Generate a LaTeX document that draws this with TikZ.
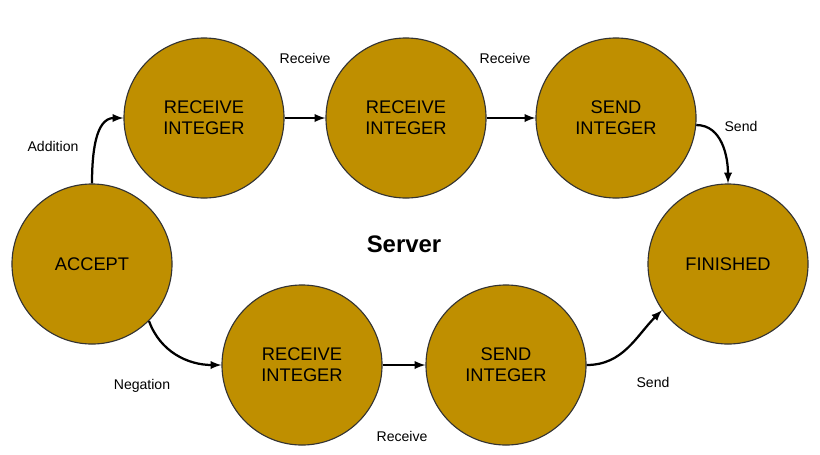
\documentclass[tikz,border=0pt]{standalone}
\usepackage{fontspec}
\setmainfont{Liberation Sans}
\usetikzlibrary{arrows}
\definecolor{gold}{HTML}{BF8F00}
\tikzset{
    state/.style={circle, draw=black!80, thick, fill=gold, minimum size=4cm,
        inner sep=0pt, align=center, font=\fontsize{13}{15}\selectfont},
    lbl/.style={font=\fontsize{10}{12}\selectfont},
    flow/.style={-latex, line width=1.6pt}
}
\begin{document}
\begin{tikzpicture}[x=0.025cm, y=-0.025cm]
        \useasboundingbox (0,0) rectangle (820,454);

        \node[state] (acc) at (92,264) {ACCEPT};
        \node[state] (ra) at (204,118) {RECEIVE\\INTEGER};
        \node[state] (rb) at (406,118) {RECEIVE\\INTEGER};
        \node[state] (sa) at (616,118) {SEND\\INTEGER};
        \node[state] (fin) at (728,264) {FINISHED};
        \node[state] (rc) at (302,365) {RECEIVE\\INTEGER};
        \node[state] (sb) at (506,365) {SEND\\INTEGER};

        \node[font=\fontsize{17}{20}\selectfont\bfseries] (srv) at (404,244) {Server};

        \draw[flow] (acc.90) to[out=90, in=180] (ra.180);
        \draw[flow] (ra.0) -- (rb.180);
        \draw[flow] (rb.0) -- (sa.180);
        \draw[flow] (sa.-5) to[out=0, in=90] (fin.90);
        \draw[flow] (acc.-45) to[out=-70, in=180] (rc.180);
        \draw[flow] (rc.0) -- (sb.180);
        \draw[flow] (sb.0) to[out=0, in=-135] (fin.-145);

        % edge labels
        \node[lbl] (l1) at (53,146) {Addition};
        \node[lbl] (l2) at (305,58) {Receive};
        \node[lbl] (l3) at (505,58) {Receive};
        \node[lbl] (l4) at (741,126) {Send};
        \node[lbl] (l5) at (142,386) {Negation};
        \node[lbl] (l6) at (402,436) {Receive};
        \node[lbl] (l7) at (653,382) {Send};
    \end{tikzpicture}
\end{document}
